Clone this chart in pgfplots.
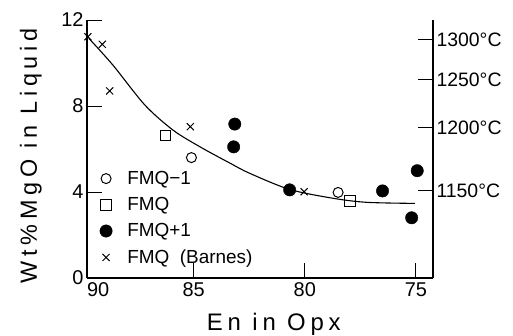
\documentclass[border=0pt]{standalone}
\usepackage{fontspec}
\setmainfont{Liberation Sans}
\newfontfamily\labfont[LetterSpace=20]{Liberation Sans}
\usepackage{pgfplots}
\pgfplotsset{compat=1.18}
\begin{document}
\begin{tikzpicture}
\begin{axis}[
  scale only axis, width=346bp, height=258bp,
  at={(0,0)}, anchor=south west,
  x dir=reverse, xmin=74.23, xmax=89.8, ymin=0, ymax=12,
  axis x line*=bottom, axis y line*=left,
  axis line style={line width=1.9pt, -},
  tick align=inside, major tick length=15bp,
  tick style={line width=1pt, black},
  xtick={85,80,75}, xticklabels={85,80,75},
  extra x ticks={89.3}, extra x tick labels={90},
  extra x tick style={major tick length=0pt},
  ytick={0,4,8,12}, yticklabels={0,4,8,12},
  tick label style={font=\fontsize{20}{24}\selectfont},
  xticklabel style={yshift=-1bp},
  xlabel={\labfont\fontsize{24}{28}\selectfont En in Opx},
  ylabel={\labfont\fontsize{23.5}{28}\selectfont Wt\%MgO in Liquid},
  xlabel style={at={(rel axis cs:0.54,0)}, anchor=base, yshift=-52bp},
  ylabel style={at={(rel axis cs:-0.162,0.473)}, anchor=center},
  legend style={draw=none, fill=none, at={(rel axis cs:0.028,0.43)}, anchor=north west,
    font=\fontsize{19}{22}\selectfont, row sep=7.5bp, column sep=13bp, cells={anchor=west}},
  legend cell align=left,
  clip=false,
]
\addplot[only marks, mark=o, mark size=5bp, line width=1pt, black] coordinates {
 (85.10,5.60) (78.50,3.98)
};
\addlegendentry{FMQ−1}
\addplot[only marks, mark=square, mark size=5.2bp, line width=1pt, black] coordinates {
 (86.26,6.62) (77.97,3.58)
};
\addlegendentry{FMQ}
\addplot[only marks, mark=*, mark size=6.2bp, black] coordinates {
 (83.15,7.16) (83.20,6.10) (80.68,4.10) (76.50,4.05) (75.19,2.80) (74.94,4.99)
};
\addlegendentry{FMQ+1}
\addplot[only marks, mark=x, mark size=5bp, line width=1pt, black] coordinates {
 (89.76,11.22) (89.11,10.87) (88.78,8.70) (85.15,7.04) (80.03,4.01)
};
\addlegendentry{FMQ\ \ (Barnes)}
\addplot[smooth, no marks, line width=1.1pt, black, forget plot] coordinates {
 (89.72,11.15) (88.64,9.91) (87.20,8.05) (85.93,6.88) (84.73,6.11) (83.38,5.35)
 (82.48,4.87) (80.68,4.12) (78.74,3.71) (77.22,3.52) (75.05,3.47)
};
\end{axis}
\begin{axis}[
  scale only axis, width=346bp, height=258bp,
  at={(0,0)}, anchor=south west,
  xmin=74.23, xmax=89.8, ymin=0, ymax=12,
  hide x axis, axis y line*=right,
  axis line style={line width=1.9pt, -},
  tick align=inside, major tick length=15bp,
  tick style={line width=1pt, black},
  ytick={4.05,6.99,9.21,11.07},
  yticklabels={1150°C,1200°C,1250°C,1300°C},
  tick label style={font=\fontsize{19.5}{23}\selectfont},
]
\end{axis}
\pgfresetboundingbox
\path[use as bounding box] (-87bp,-58bp) rectangle (426bp,278bp);
\end{tikzpicture}
\end{document}
